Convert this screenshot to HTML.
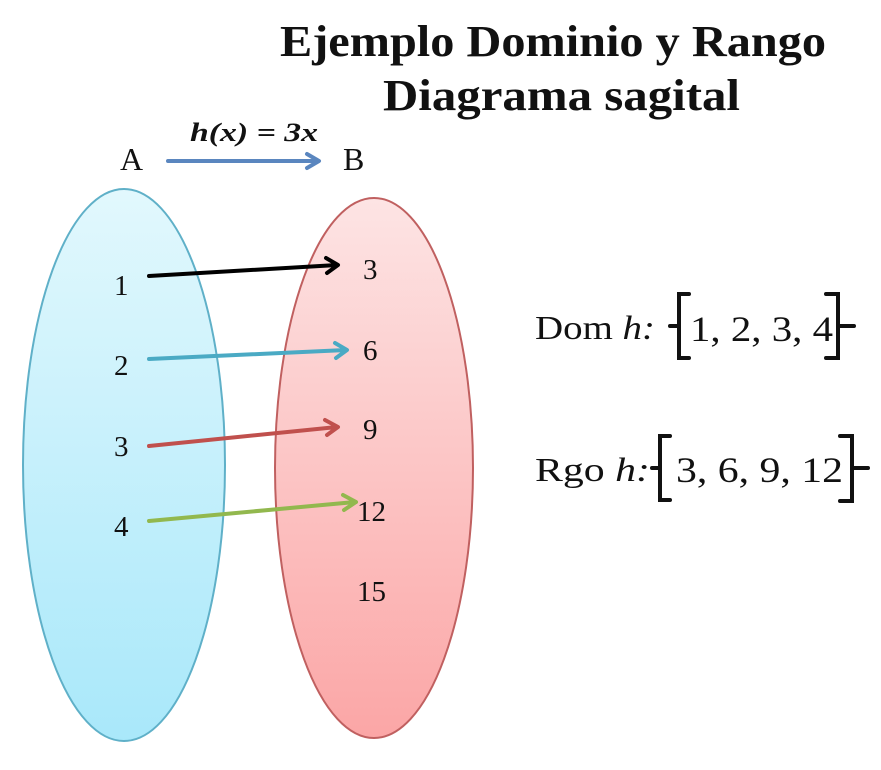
<!DOCTYPE html>
<html><head><meta charset="utf-8"><style>
body{margin:0;background:#fff;}
svg{display:block}
text{font-family:"Liberation Serif",serif;fill:#111}
</style></head><body>
<svg width="881" height="770" viewBox="0 0 881 770">
<defs>
<linearGradient id="gb" x1="0" y1="0" x2="0" y2="1"><stop offset="0" stop-color="#e2f8fd"/><stop offset="1" stop-color="#a9e8fa"/></linearGradient>
<linearGradient id="gr" x1="0" y1="0" x2="0" y2="1"><stop offset="0" stop-color="#fde4e4"/><stop offset="1" stop-color="#fba6a6"/></linearGradient>
</defs>
<text x="280" y="56" font-size="44" font-weight="bold" textLength="546" lengthAdjust="spacingAndGlyphs">Ejemplo Dominio y Rango</text>
<text x="383" y="110" font-size="44" font-weight="bold" textLength="357" lengthAdjust="spacingAndGlyphs">Diagrama sagital</text>
<ellipse cx="124" cy="465" rx="101" ry="276" fill="url(#gb)" stroke="#5fb0c8" stroke-width="2"/>
<ellipse cx="374" cy="468" rx="99" ry="270" fill="url(#gr)" stroke="#c06060" stroke-width="2"/>
<text x="120" y="170" font-size="32">A</text>
<text x="343" y="170" font-size="32">B</text>
<text x="190" y="141" font-size="26" font-style="italic" font-weight="bold" textLength="128" lengthAdjust="spacingAndGlyphs">h(x) = 3x</text>
<g fill="none" stroke-width="4" stroke-linecap="round" stroke-linejoin="round">
<path d="M168 161 L318 161 M307 154 L319 161 L307 168" stroke="#5a86bf"/>
<path d="M149 276 L337 265 M326 258 L338 265 L327 273" stroke="#000"/>
<path d="M149 359 L346 350 M335 343 L347 350 L336 358" stroke="#4aaac4"/>
<path d="M149 446 L337 427 M325 420 L338 427 L327 435" stroke="#c0504d"/>
<path d="M149 521 L355 502 M343 495 L356 502 M344 510 L356 502" stroke="#92b84e"/>
</g>
<g font-size="29">
<text x="114" y="295">1</text>
<text x="114" y="375">2</text>
<text x="114" y="456">3</text>
<text x="114" y="536">4</text>
<text x="363" y="279">3</text>
<text x="363" y="360">6</text>
<text x="363" y="439">9</text>
<text x="357" y="521">12</text>
<text x="357" y="601">15</text>
</g>
<text x="535" y="339" font-size="34" textLength="120" lengthAdjust="spacingAndGlyphs">Dom <tspan font-style="italic">h:</tspan></text>
<text x="690" y="341" font-size="36" textLength="143" lengthAdjust="spacingAndGlyphs">1, 2, 3, 4</text>
<text x="535" y="481" font-size="34" textLength="115" lengthAdjust="spacingAndGlyphs">Rgo <tspan font-style="italic">h:</tspan></text>
<text x="676" y="482" font-size="36" textLength="167" lengthAdjust="spacingAndGlyphs">3, 6, 9, 12</text>
<g fill="none" stroke="#111" stroke-width="4" stroke-linecap="round">
<path d="M689 294 L679 294 L679 358 L689 358 M679 326 L670 326"/>
<path d="M826 294 L838 294 L838 358 L826 358 M838 326 L854 326"/>
<path d="M670 436 L660 436 L660 500 L670 500 M660 468 L652 468"/>
<path d="M840 436 L852 436 L852 501 L840 501 M852 468 L868 468"/>
</g>
</svg>
</body></html>
